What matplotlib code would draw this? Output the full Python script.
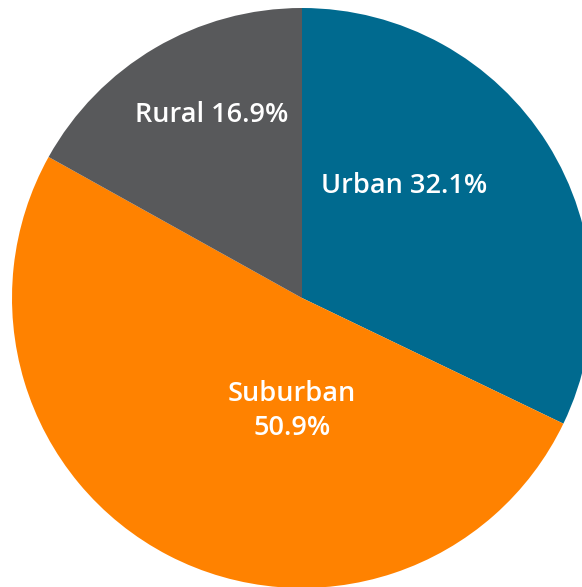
import matplotlib.pyplot as plt

labels = ["Urban", "Suburban", "Rural"]
shares = [32.1, 50.9, 16.9]
colors = ["#006A8F", "#FF8200", "#58595B"]
text_names = ["Urban 32.1%", "Suburban\n50.9%", "Rural 16.9%"]
# label positions in pixels (x, y from top)
text_pos = [(404, 186), (292, 411), (212, 115)]

W, H = 582, 587
fig = plt.figure(figsize=(W / 100, H / 100), dpi=100)
ax = fig.add_axes([0, 0, 1, 1])

ax.pie(shares, colors=colors, startangle=90, counterclock=False,
       center=(302, H - 298), radius=290, frame=True,
       wedgeprops=dict(linewidth=0))

for t, (x, y) in zip(text_names, text_pos):
    ax.text(x, H - y, t, ha="center", va="center", color="white",
            fontsize=19.5, fontfamily="Open Sans", fontweight="semibold",
            linespacing=1.25)

ax.set_xlim(0, W)
ax.set_ylim(0, H)
ax.set_aspect("equal")
ax.axis("off")

fig.savefig("out.png", dpi=100)
